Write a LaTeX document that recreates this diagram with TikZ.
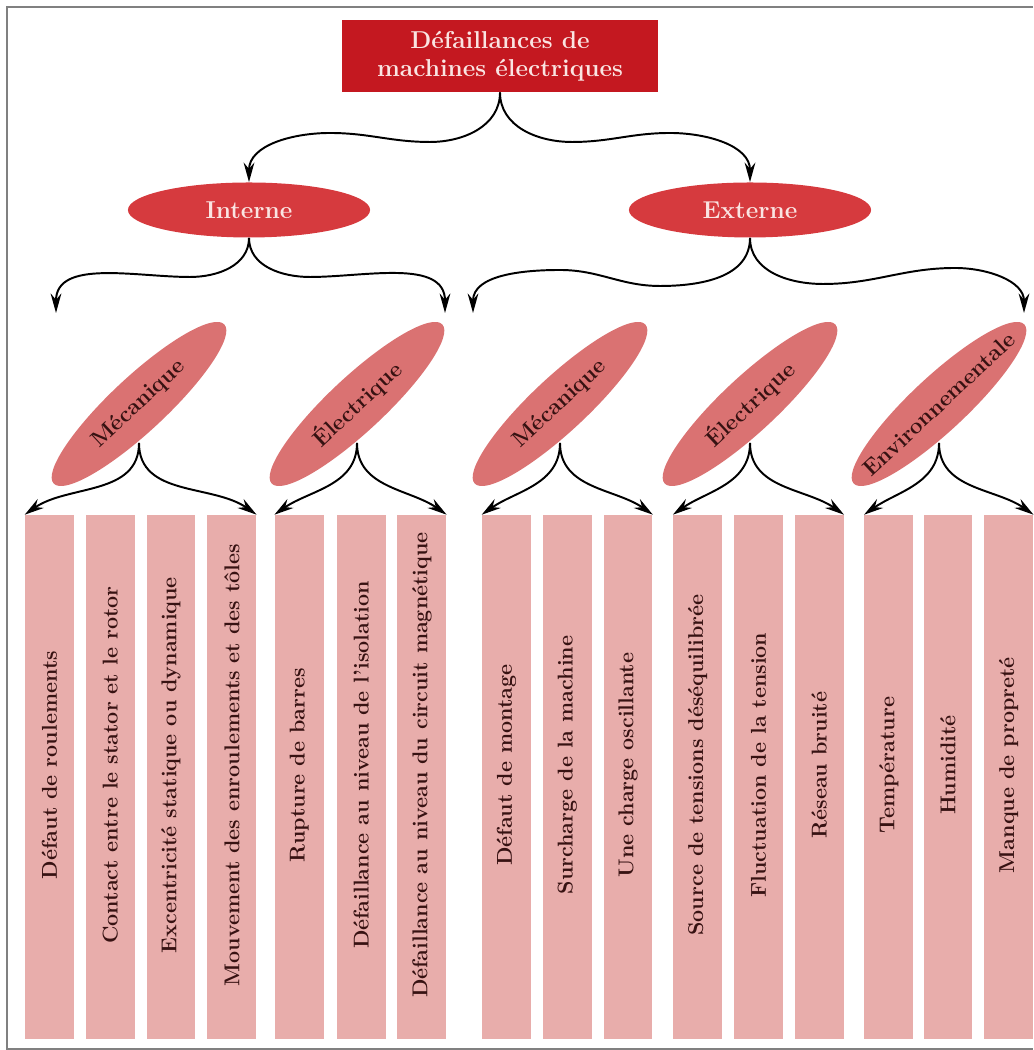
\documentclass[tikz,border=0pt]{standalone}
\usetikzlibrary{arrows.meta, positioning, calc, shapes.geometric}
\definecolor{topred}{RGB}{196,24,32}
\definecolor{midred}{RGB}{214,58,62}
\definecolor{subpink}{RGB}{218,114,114}
\definecolor{barpink}{RGB}{232,173,171}
\definecolor{lighttxt}{RGB}{250,228,226}
\definecolor{darktxt}{RGB}{55,18,18}
\newcommand{\vtext}[1]{\rotatebox{90}{\hspace*{0.43cm}#1}}
\tikzset{
  root/.style  = {rectangle, fill=topred, text=lighttxt, align=center,
                  font=\bfseries\fontsize{12.5}{14.5}\selectfont,
                  minimum width=5.69cm, minimum height=1.3cm},
  kind/.style  = {ellipse, fill=midred, text=lighttxt,
                  font=\bfseries\fontsize{12.5}{14}\selectfont,
                  minimum width=4.36cm, minimum height=0.99cm},
  sub/.style   = {ellipse, fill=subpink, text=darktxt, rotate=43,
                  font=\bfseries\fontsize{11.5}{13}\selectfont, inner sep=1pt,
                  minimum width=4.2cm, minimum height=0.99cm},
  bar/.style   = {rectangle, fill=barpink, text=darktxt,
                  font=\bfseries\fontsize{11}{13}\selectfont,
                  minimum width=0.88cm, minimum height=9.43cm},
  arr/.style   = {-{Stealth[length=10pt, width=5.5pt]}, line width=1pt},
  frame/.style = {draw=black!50, line width=0.8pt}
}

\begin{document}
\begin{tikzpicture}[x=0.018cm, y=0.018cm]
  \useasboundingbox (0,0) rectangle (1033,1050);
  \draw[frame] (1033,1043) -- (7,1043) -- (7,1) -- (1033,1);

  % ── Top levels ────────────────────────────────────────────────────────────
  \node[root] (top) at (500,994) {Défaillances de\\ machines électriques};
  \node[kind] (int) at (249,840) {Interne};
  \node[kind] (ext) at (750,840) {Externe};

  % ── Families ──────────────────────────────────────────────────────────────
  \node[sub] (mecI) at (139,646) {Mécanique};
  \node[sub] (eleI) at (357,646) {Électrique};
  \node[sub] (mecE) at (560,646) {Mécanique};
  \node[sub] (eleE) at (750,646) {Électrique};
  \node[sub, inner xsep=-0.5cm] (env) at (939,646) {Environnementale};

  % ── Faults ────────────────────────────────────────────────────────────────
  \node[bar] (b1) at (49.5,273) {\vtext{Défaut de roulements}};
  \node[bar, right=0.2cm of b1]  (b2)  {\vtext{Contact entre le stator et le rotor}};
  \node[bar, right=0.2cm of b2]  (b3)  {\vtext{Excentricité statique ou dynamique}};
  \node[bar, right=0.2cm of b3]  (b4)  {\vtext{Mouvement des enroulements et des tôles}};
  \node[bar, right=0.32cm of b4] (b5)  {\vtext{Rupture de barres}};
  \node[bar, right=0.22cm of b5] (b6)  {\vtext{Défaillance au niveau de l'isolation}};
  \node[bar, right=0.2cm of b6]  (b7)  {\vtext{Défaillance au niveau du circuit magnétique}};
  \node[bar, right=0.63cm of b7] (b8)  {\vtext{Défaut de montage}};
  \node[bar, right=0.2cm of b8]  (b9)  {\vtext{Surcharge de la machine}};
  \node[bar, right=0.2cm of b9]  (b10) {\vtext{Une charge oscillante}};
  \node[bar, right=0.36cm of b10] (b11) {\vtext{Source de tensions déséquilibrée}};
  \node[bar, right=0.2cm of b11] (b12) {\vtext{Fluctuation de la tension}};
  \node[bar, right=0.2cm of b12] (b13) {\vtext{Réseau bruité}};
  \node[bar, right=0.36cm of b13] (b14) {\vtext{Température}};
  \node[bar, right=0.17cm of b14] (b15) {\vtext{Humidité}};
  \node[bar, right=0.2cm of b15] (b16) {\vtext{Manque de propreté}};

  % ── Free ends and start points ────────────────────────────────────────────
  \coordinate (intL) at (56,737);
  \coordinate (intR) at (445,737);
  \coordinate (extL) at (473,737);
  \coordinate (extR) at (1024,737);
  \coordinate (mecIb) at ($(mecI.center)+(0,-39)$);
  \coordinate (eleIb) at ($(eleI.center)+(0,-39)$);
  \coordinate (mecEb) at ($(mecE.center)+(0,-39)$);
  \coordinate (eleEb) at ($(eleE.center)+(0,-39)$);
  \coordinate (envb)  at ($(env.center)+(0,-39)$);

  % ── Connections ───────────────────────────────────────────────────────────

  % Root → Interne / Externe
  \draw[arr] (top.south) to[out=-90,in=0] (430,908) to[out=180,in=0] (330,917)
             to[out=180,in=90] (int.north);
  \draw[arr] (top.south) to[out=-90,in=180] (572,908) to[out=0,in=180] (670,917)
             to[out=0,in=90] (ext.north);

  % Interne / Externe → families
  \draw[arr] (int.south) to[out=-90,in=0] (190,773) to[out=180,in=90] (intL);
  \draw[arr] (int.south) to[out=-90,in=180] (310,773) to[out=0,in=90] (intR);
  \draw[arr] (ext.south) to[out=-90,in=0] (660,764) to[out=180,in=0] (560,780)
             to[out=180,in=90] (extL);
  \draw[arr] (ext.south) to[out=-90,in=180] (823,766) to[out=0,in=180] (955,782)
             to[out=0,in=90] (extR);

  % Families → faults
  \draw[arr] (mecIb) to[out=-90,in=35]  (b1.north west);
  \draw[arr] (mecIb) to[out=-90,in=145] (b4.north east);
  \draw[arr] (eleIb) to[out=-90,in=35]  (b5.north west);
  \draw[arr] (eleIb) to[out=-90,in=145] (b7.north east);
  \draw[arr] (mecEb) to[out=-90,in=35]  (b8.north west);
  \draw[arr] (mecEb) to[out=-90,in=145] (b10.north east);
  \draw[arr] (eleEb) to[out=-90,in=35]  (b11.north west);
  \draw[arr] (eleEb) to[out=-90,in=145] (b13.north east);
  \draw[arr] (envb)  to[out=-90,in=35]  (b14.north west);
  \draw[arr] (envb)  to[out=-90,in=145] (b16.north east);

\end{tikzpicture}
\end{document}
